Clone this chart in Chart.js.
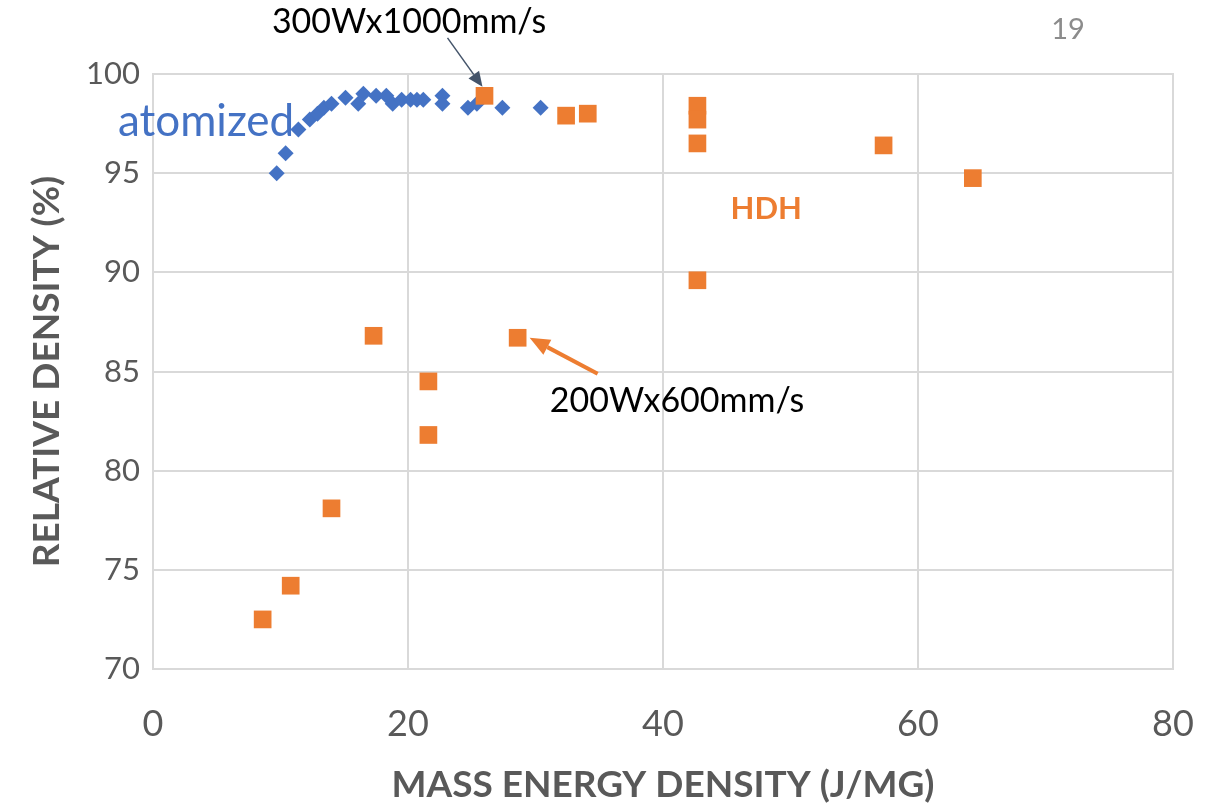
<!DOCTYPE html>
<html>
<head>
<meta charset="utf-8">
<script src="https://cdn.jsdelivr.net/npm/chart.js@4.4.1/dist/chart.umd.min.js"></script>
<style>
  html, body { margin: 0; padding: 0; background: #ffffff; }
  #wrap { width: 1223px; height: 807px; position: relative; }
</style>
</head>
<body>
<div id="wrap"><canvas id="c" width="1223" height="807"></canvas></div>
<script>
// Gas-atomized powder: mass energy density (J/mg) vs relative density (%)
const atomizedEnergy = [9.7, 10.4, 11.4, 12.3, 12.9, 13.4, 14.0, 15.1, 16.1, 16.5, 17.5, 18.3, 18.8, 19.5, 20.2, 20.7, 21.2, 22.7, 22.7, 24.7, 25.4, 27.4, 30.4];
const atomizedDensity = [95.0, 96.0, 97.2, 97.7, 98.0, 98.3, 98.5, 98.8, 98.5, 99.0, 98.9, 98.9, 98.5, 98.7, 98.7, 98.7, 98.7, 98.9, 98.5, 98.3, 98.5, 98.3, 98.3];

// HDH powder
const hdhEnergy = [8.6, 10.8, 14.0, 17.3, 21.6, 21.6, 28.6, 26.0, 32.4, 34.1, 42.7, 42.7, 42.7, 42.7, 57.3, 64.3];
const hdhDensity = [72.5, 74.2, 78.1, 86.8, 84.5, 81.8, 86.7, 98.9, 97.9, 98.0, 98.4, 97.7, 96.5, 89.6, 96.4, 94.75];

// Axis ticks
const xTicks = [0, 20, 40, 60, 80];
const yTicks = [70, 75, 80, 85, 90, 95, 100];

const BLUE = '#4472C4';
const ORANGE = '#ED7D31';
const GREY_TEXT = '#595959';
const GRID = '#D9D9D9';
const FONT = 'Lato, "Open Sans", sans-serif';

const toPoints = (xs, ys) => xs.map((x, i) => ({ x: x, y: ys[i] }));

// Arrow helper: shaft from (x1,y1) to tip (x2,y2) with a filled head
function arrow(ctx, x1, y1, x2, y2, color, width, headLen, headWidth) {
  const ang = Math.atan2(y2 - y1, x2 - x1);
  const bx = x2 - headLen * Math.cos(ang);
  const by = y2 - headLen * Math.sin(ang);
  ctx.save();
  ctx.strokeStyle = color;
  ctx.fillStyle = color;
  ctx.lineWidth = width;
  ctx.beginPath();
  ctx.moveTo(x1, y1);
  ctx.lineTo(bx, by);
  ctx.stroke();
  const px = -Math.sin(ang) * headWidth / 2;
  const py = Math.cos(ang) * headWidth / 2;
  ctx.beginPath();
  ctx.moveTo(x2, y2);
  ctx.lineTo(bx + px, by + py);
  ctx.lineTo(bx - px, by - py);
  ctx.closePath();
  ctx.fill();
  ctx.restore();
}

const annotations = {
  id: 'annotations',
  afterDatasetsDraw(chart) {
    const ctx = chart.ctx;
    const xs = chart.scales.x, ys = chart.scales.y;
    const X = v => xs.getPixelForValue(v);
    const Y = v => ys.getPixelForValue(v);
    ctx.save();
    ctx.textBaseline = 'middle';

    // series labels
    ctx.fillStyle = BLUE;
    ctx.font = '44px ' + FONT;
    ctx.textAlign = 'left';
    ctx.fillText('atomized', X(-2.75), Y(97.6));

    ctx.fillStyle = ORANGE;
    ctx.font = 'bold 31px ' + FONT;
    ctx.textAlign = 'center';
    ctx.fillText('HDH', X(48.1), Y(93.2));

    // 300 W x 1000 mm/s call-out
    const p1x = X(hdhEnergy[7]), p1y = Y(hdhDensity[7]);
    ctx.fillStyle = '#000000';
    ctx.font = '34px ' + FONT;
    ctx.textAlign = 'center';
    ctx.fillText('300Wx1000mm/s', X(20.08), Y(102.6));
    arrow(ctx, p1x - 37, p1y - 58, p1x - 2, p1y - 9, '#44546A', 1.5, 15, 13);

    // 200 W x 600 mm/s call-out
    const p2x = X(hdhEnergy[6]), p2y = Y(hdhDensity[6]);
    ctx.fillText('200Wx600mm/s', X(41.1), Y(83.5));
    arrow(ctx, p2x + 80, p2y + 36, p2x + 12, p2y, ORANGE, 4, 20, 17);

    // page number
    ctx.fillStyle = '#8C8C8C';
    ctx.font = '29px ' + FONT;
    ctx.fillText('19', 1068, 30);
    ctx.restore();
  }
};

// Outline of the plot area
const frame = {
  id: 'frame',
  beforeDatasetsDraw(chart) {
    const a = chart.chartArea, ctx = chart.ctx;
    ctx.save();
    ctx.strokeStyle = GRID;
    ctx.lineWidth = 2;
    ctx.strokeRect(a.left, a.top, a.right - a.left, a.bottom - a.top);
    ctx.restore();
  }
};

new Chart(document.getElementById('c'), {
  type: 'scatter',
  data: {
    datasets: [
      {
        label: 'HDH',
        data: toPoints(hdhEnergy, hdhDensity),
        pointStyle: 'rect',
        pointRadius: 12.5,
        pointHoverRadius: 12.5,
        backgroundColor: ORANGE,
        borderColor: ORANGE,
        borderWidth: 0,
        order: 0
      },
      {
        label: 'atomized',
        data: toPoints(atomizedEnergy, atomizedDensity),
        pointStyle: 'rectRot',
        pointRadius: 8,
        pointHoverRadius: 8,
        backgroundColor: BLUE,
        borderColor: BLUE,
        borderWidth: 0,
        order: 1
      }
    ]
  },
  options: {
    responsive: false,
    animation: false,
    events: [],
    layout: { padding: { top: 74, right: 50, left: 0, bottom: 0 } },
    plugins: {
      legend: { display: false },
      tooltip: { enabled: false }
    },
    scales: {
      x: {
        type: 'linear',
        min: 0, max: 80,
        afterBuildTicks: s => { s.ticks = xTicks.map(v => ({ value: v })); },
        afterFit: s => { s.height = 138; s.paddingLeft = 0; s.paddingRight = 0; },
        grid: { color: GRID, lineWidth: 2, drawTicks: false },
        border: { display: false },
        ticks: {
          color: GREY_TEXT,
          font: { family: FONT, size: 36 },
          padding: 34
        },
        title: {
          display: true,
          text: 'MASS ENERGY DENSITY (J/MG)',
          color: GREY_TEXT,
          font: { family: FONT, size: 37, weight: 'bold' },
          padding: { top: 0, bottom: 0 }
        }
      },
      y: {
        type: 'linear',
        min: 70, max: 100,
        afterBuildTicks: s => { s.ticks = yTicks.map(v => ({ value: v })); },
        afterFit: s => { s.width = 153; s.paddingTop = 0; s.paddingBottom = 0; },
        grid: { color: GRID, lineWidth: 2, drawTicks: false },
        border: { display: false },
        ticks: {
          color: GREY_TEXT,
          font: { family: FONT, size: 31 },
          padding: 13
        },
        title: {
          display: true,
          text: 'RELATIVE DENSITY (%)',
          color: GREY_TEXT,
          font: { family: FONT, size: 37, weight: 'bold' },
          padding: { top: 25, bottom: 0 }
        }
      }
    }
  },
  plugins: [frame, annotations]
});
</script>
</body>
</html>
